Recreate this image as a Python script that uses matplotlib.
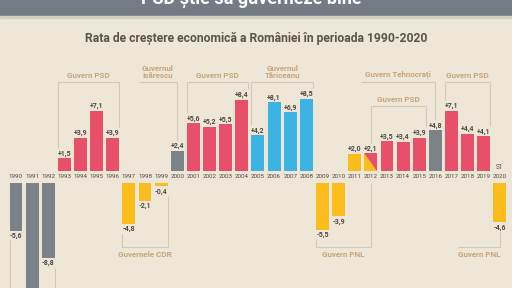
import matplotlib.pyplot as plt
from matplotlib.patches import Rectangle, Polygon

plt.rcParams['font.family'] = ['Roboto', 'DejaVu Sans']

# GDP growth of Romania, 1990-2020 (2020 = first semester)
years = list(range(1990, 2021))
growth = [-5.6, -12.9, -8.8, 1.5, 3.9, 7.1, 3.9, -4.8, -2.1, -0.4, 2.4,
          5.6, 5.2, 5.5, 8.4, 4.2, 8.1, 6.9, 8.5, -5.5, -3.9, 2.0, 2.1,
          3.5, 3.4, 3.9, 4.8, 7.1, 4.4, 4.1, -4.6]
govern = ['fsn', 'fsn', 'fsn', 'psd', 'psd', 'psd', 'psd', 'cdr', 'cdr', 'cdr', 'tech',
          'psd', 'psd', 'psd', 'psd', 'tar', 'tar', 'tar', 'tar', 'pnl', 'pnl', 'pnl', 'mix',
          'psd', 'psd', 'psd', 'tech', 'psd', 'psd', 'psd', 'pnl']

colors = {'fsn': '#7b8288', 'tech': '#7b8288', 'psd': '#e8506a', 'cdr': '#fbbd1c',
          'pnl': '#fbbd1c', 'mix': '#fbbd1c', 'tar': '#3bb4e4'}

BG = '#eee6d6'
LINE = '#d3c9b8'
GOVTXT = '#c9a67a'
TXT = '#4f4a45'

fig = plt.figure(figsize=(5.12, 2.88), dpi=100, facecolor=BG)
ax = fig.add_axes([0, 0, 1, 1])
ax.set_facecolor(BG)
ax.axis('off')
ax.set_xlim(-0.992, 30.75)
ax.set_ylim(-13.06, 20.82)

gap = 0.7
w = 0.8
xs = list(range(len(years)))
bottoms = [gap if v > 0 else -gap for v in growth]
bars = ax.bar(xs, growth, width=w, bottom=bottoms,
              color=[colors[g] for g in govern], linewidth=0)

# 2012: split bar (PNL / PSD)
for b, g in zip(bars, govern):
    if g == 'mix':
        x0, y0 = b.get_x(), b.get_y()
        x1, y1 = x0 + b.get_width(), y0 + b.get_height()
        ax.add_patch(Polygon([(x0, y1), (x1, y1), (x1, y0)], closed=True,
                             color=colors['psd'], linewidth=0))

ymin = ax.get_ylim()[0]
for x, y, v, b in zip(xs, years, growth, bottoms):
    ax.text(x, 0, str(y), ha='center', va='center', fontsize=4.5, color=TXT)
    lab = ('+' if v > 0 else '-') + f'{abs(v):.1f}'.replace('.', ',')
    if v > 0:
        ax.text(x, b + v + 0.1, lab, ha='center', va='bottom', fontsize=5,
                fontweight='bold', color=TXT)
    elif b + v - 1.2 > ymin:  # label of 1991 lies below the visible area
        ax.text(x, b + v - 0.15, lab, ha='center', va='top', fontsize=5,
                fontweight='bold', color=TXT)
ax.text(30, 1.1, 'S1', ha='center', va='center', fontsize=4.7, color=TXT)


def ix(year):
    return years.index(year)


def left(year):
    return ix(year) - w / 2


def right(year):
    return ix(year) + w / 2


def tip(year):
    v = growth[ix(year)]
    return v + gap + 1.25 if v > 0 else v - gap - 1.15


def bracket(x0, x1, level, drops, label=None, up=True):
    ax.plot([x0, x1], [level, level], color=LINE, lw=0.8, solid_capstyle='butt')
    for dx, dy in drops:
        ax.plot([dx, dx], [level, dy], color=LINE, lw=0.8, solid_capstyle='butt')
    if label:
        if up:
            ax.text((x0 + x1) / 2, level + 0.35, label, ha='center', va='bottom',
                    fontsize=5.8, fontweight='semibold', color=GOVTXT, linespacing=1.0)
        else:
            ax.text((x0 + x1) / 2, level - 0.45, label, ha='center', va='top',
                    fontsize=5.8, fontweight='semibold', color=GOVTXT)


TOP, MID, LOW = 11.2, 8.35, -8.25

bracket(left(1993), right(1996), TOP, [(left(1993), tip(1993)), (right(1996), tip(1996))], 'Guvern PSD')
bracket(left(1998), ix(2000), TOP, [(ix(2000), tip(2000))], 'Guvernul\nIsărescu')
bracket(left(2001), right(2004), TOP, [(left(2001), tip(2001)), (right(2004), tip(2004))], 'Guvern PSD')
bracket(left(2005), right(2008), TOP, [(left(2005), tip(2005)), (right(2008), tip(2008))], 'Guvernul\nTăriceanu')
bracket(right(2011), ix(2016), TOP, [(ix(2016), tip(2016))], 'Guvern Tehnocrați')
bracket(ix(2012), right(2015), MID, [(ix(2012), tip(2012)), (right(2015), tip(2015))], 'Guvern PSD')
bracket(left(2017), right(2019), TOP, [(left(2017), tip(2017)), (right(2019), tip(2019))], 'Guvern PSD')

bracket(left(1990), right(1992), -14.5, [(left(1990), tip(1990)), (right(1992), tip(1992))])
bracket(left(1997), right(1999), LOW, [(left(1997), tip(1997)), (right(1999), tip(1999))],
        'Guvernele CDR', up=False)
bracket(left(2009), ix(2012), LOW, [(left(2009), tip(2009)), (ix(2012), -gap)],
        'Guvern PNL', up=False)
bracket(right(2017), ix(2020), LOW, [(ix(2020), tip(2020))], 'Guvern PNL', up=False)

# header band (title only partly visible, as in the source crop)
fig.patches.append(Rectangle((0, 1 - 16 / 288), 1, 16 / 288, transform=fig.transFigure,
                             color='#737c85', zorder=0))
fig.patches.append(Rectangle((0, 1 - 17.5 / 288), 1, 1.5 / 288, transform=fig.transFigure,
                             color='#d4cfc3', zorder=0))
fig.text(0.49, 1 - 4 / 288, 'PSD știe să guverneze bine', ha='center', va='baseline',
         fontsize=13, fontweight='bold', color='white')
fig.text(0.5, 1 - 38 / 288, 'Rata de creștere economică a României în perioada 1990-2020',
         ha='center', va='center', fontsize=8.7, fontweight='bold', color='#5a544c')

fig.savefig('out.png', dpi=100, facecolor=BG)
